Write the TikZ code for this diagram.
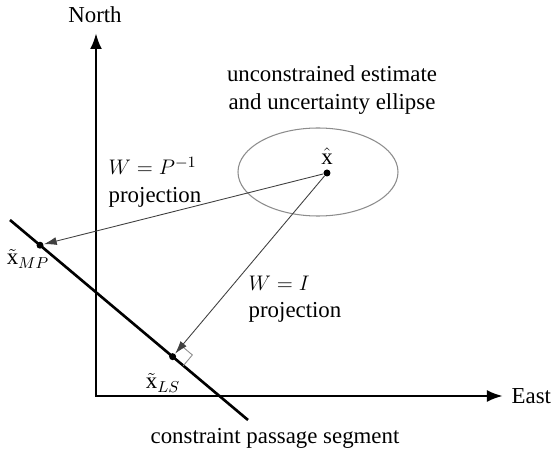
\documentclass[tikz,border=0pt]{standalone}
\usepackage{fontspec}
\setmainfont{Liberation Serif}
\usetikzlibrary{arrows.meta,calc}

\begin{document}
\begin{tikzpicture}[
    >=Latex,
    axis/.style={line width=1.6pt,{Latex[length=3.2mm,width=2.4mm]}-{Latex[length=3.2mm,width=2.4mm]}},
    proj/.style={draw=black!75,line width=0.5pt,-{Latex[length=2.6mm,width=1.6mm]}},
    pt/.style={circle,fill=black,inner sep=0pt,minimum size=0.14cm},
    label/.style={font=\fontsize{13}{15.5}\selectfont,align=center}
  ]
  \useasboundingbox (0,0) rectangle (11.1,9);

  % axes
  \coordinate (origin) at (1.92,1.08);
  \coordinate (ntip) at (1.92,8.34);
  \coordinate (etip) at (10.06,1.08);
  \draw[axis] (ntip) -- (origin) -- (etip);
  \node[label] (north) at (1.90,8.70) {North};
  \node[label,anchor=west] (east) at (10.11,1.08) {East};

  % estimate and ellipse
  \draw[black!45,line width=0.6pt] (6.36,5.56) ellipse (1.6 and 0.88);
  \node[pt] (xhat) at (6.54,5.54) {};
  \node[label] (xhatlbl) at (6.54,5.88) {$\hat{\mathrm{x}}$};
  \node[label] (ellbl) at (6.64,7.20) {unconstrained estimate\\and uncertainty ellipse};

  % constraint segment
  \coordinate (cA) at (0.20,4.60);
  \coordinate (cB) at (4.96,0.60);
  \draw[line width=1.5pt] (cA) -- (cB);
  \node[label] (caption) at (5.5,0.24) {constraint passage segment};

  \node[pt] (xmp) at (0.80,4.096) {};
  \coordinate (foot) at ($(cA)!(xhat)!(cB)$);
  \node[pt] (xls) at (foot) {};
  \node[label] (mplbl) at (0.56,3.82) {$\tilde{\mathrm{x}}_{MP}$};
  \node[label] (lslbl) at (3.26,1.34) {$\tilde{\mathrm{x}}_{LS}$};

  % right angle mark
  \coordinate (ra1) at ($(foot)!0.28cm!(xhat)$);
  \coordinate (ra2) at ($(foot)!0.28cm!(cB)$);
  \draw[black!45,line width=0.5pt] (ra1) -- ($(ra1)+(ra2)-(foot)$) -- (ra2);

  % projections
  \draw[proj] (xhat) -- (xmp);
  \draw[proj] (xhat) -- (xls);
  \node[label,anchor=west,align=left] (wplbl) at (2.05,5.36) {$W=P^{-1}$\\projection};
  \node[label,anchor=west,align=left] (wilbl) at (4.85,3.02) {$W=I$\\projection};
\end{tikzpicture}
\end{document}
